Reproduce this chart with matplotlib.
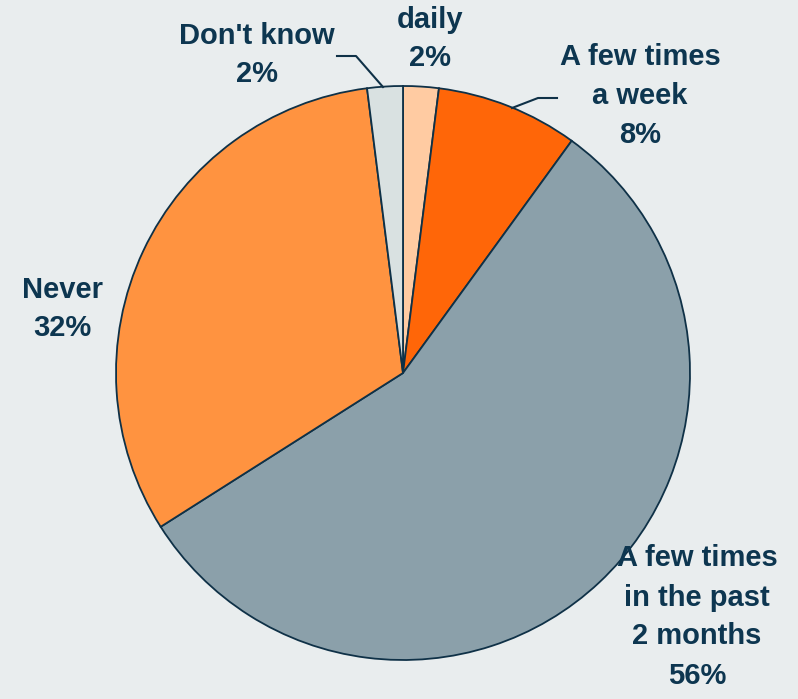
import matplotlib
matplotlib.use("Agg")
import matplotlib.pyplot as plt

# Survey responses: how often
categories = ["daily", "A few times\na week", "A few times\nin the past\n2 months", "Never", "Don't know"]
shares = [2, 8, 56, 32, 2]
colors = ["#FFCBA2", "#FF6608", "#8BA0AA", "#FF9340", "#D9E1E1"]

bg = "#E9EDEE"
ink = "#0D3650"
edge = "#0F3147"

W, H = 798, 699
fig = plt.figure(figsize=(W / 100, H / 100), dpi=100, facecolor=bg)
ax = fig.add_axes([0, 0, 1, 1])
ax.set_facecolor(bg)

cx, cy, r = 403, H - 373, 287
ax.pie(shares, colors=colors, startangle=90, counterclock=False,
       center=(cx, cy), radius=r, frame=True,
       wedgeprops=dict(edgecolor=edge, linewidth=1.3))
ax.set_xlim(0, W)
ax.set_ylim(0, H)
ax.set_aspect("equal")
ax.axis("off")

font = dict(family="Liberation Sans", weight="bold", size=21, color=ink,
            ha="center", va="center", linespacing=1.5)

labels_xy = [(430, 39), (640, 96), (697, 617), (62, 309), (257, 55)]
for cat, val, (x, y) in zip(categories, shares, labels_xy):
    ax.text(x, H - y, f"{cat}\n{val}%", **font)

# leader lines for the small slices
ax.plot([337, 356, 383], [H - 56, H - 56, H - 87], color=edge, lw=1.5)
ax.plot([557, 538, 512], [H - 98, H - 98, H - 108], color=edge, lw=1.5)

fig.savefig("out.png", dpi=100, facecolor=bg)
